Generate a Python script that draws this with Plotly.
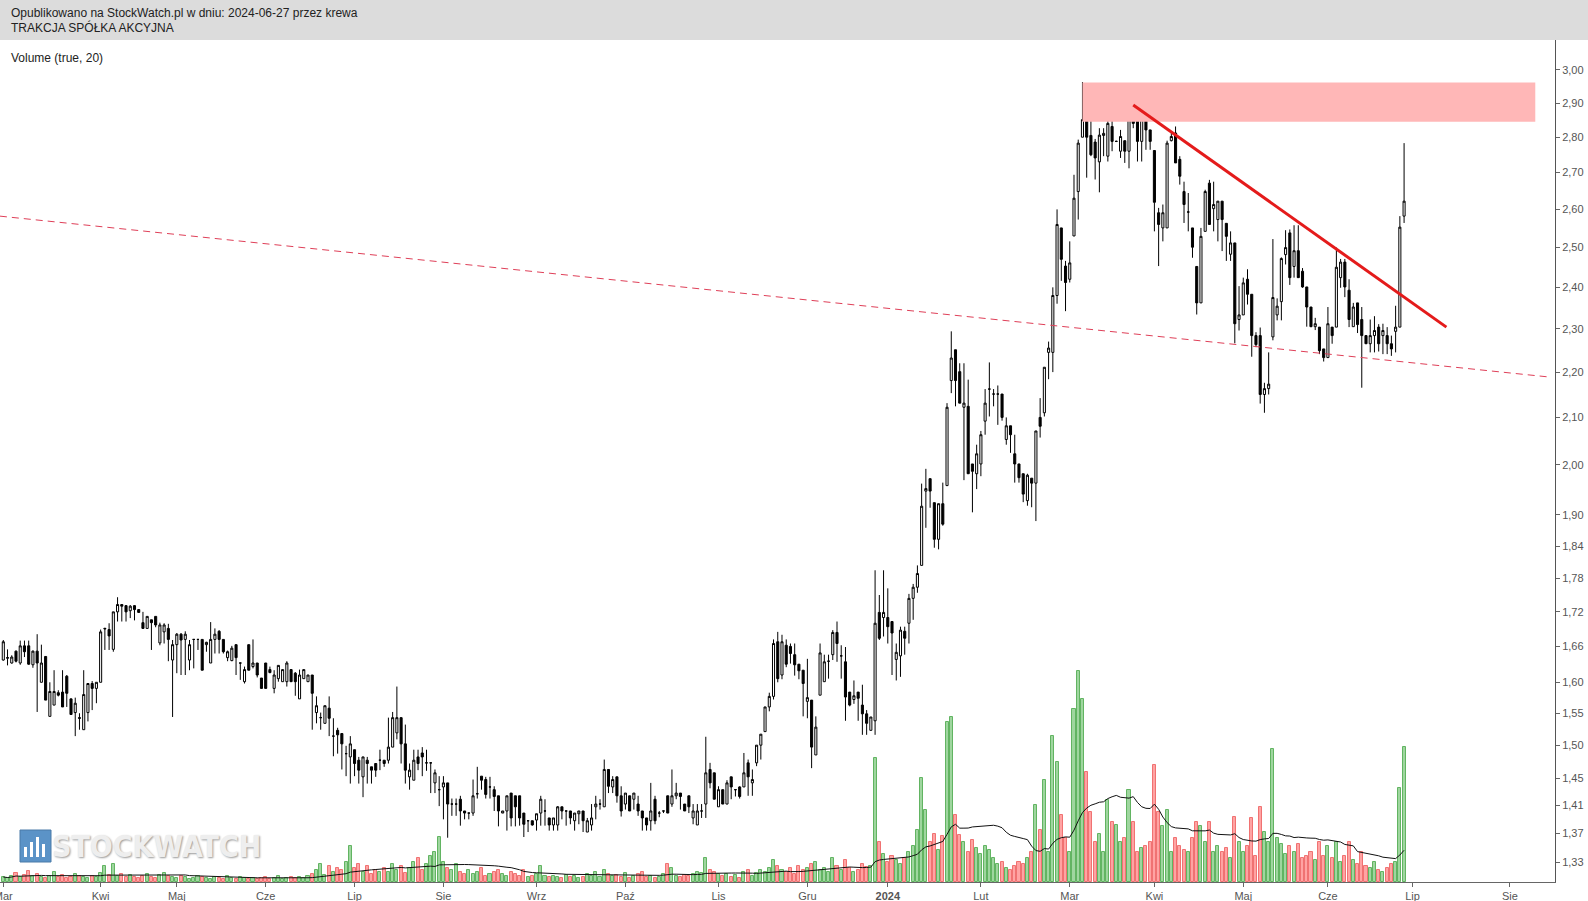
import math
import pandas as pd
import plotly.graph_objects as go

# ---------------- data ----------------
first_day = "2023-03-01"
last_axis_day = "2024-08-31"
holidays = ["2023-04-07", "2023-04-10", "2023-05-01", "2023-05-03", "2023-06-08",
            "2023-08-15", "2023-11-01", "2023-12-25", "2023-12-26", "2024-01-01",
            "2024-03-29", "2024-04-01", "2024-05-01", "2024-05-03", "2024-05-30",
            "2024-08-15"]
month_names = ["Sty", "Lut", "Mar", "Kwi", "Maj", "Cze", "Lip", "Sie", "Wrz", "Paź", "Lis", "Gru"]

open_ = [1.637,1.640,1.632,1.652,1.632,1.661,1.661,1.629,1.652,1.600,1.643,1.545,1.563,1.583,1.584,1.610,1.573,1.551,1.543,1.524,
1.551,1.598,1.590,1.600,1.690,1.689,1.655,1.720,1.733,1.731,1.722,1.731,1.724,1.701,1.691,1.706,1.712,1.666,1.685,1.691,
1.637,1.663,1.681,1.672,1.637,1.672,1.672,1.672,1.663,1.632,1.672,1.686,1.672,1.641,1.636,1.663,1.632,1.601,1.663,1.626,
1.632,1.607,1.632,1.621,1.590,1.606,1.601,1.601,1.621,1.615,1.573,1.606,1.601,1.612,1.551,1.543,1.534,1.558,1.514,1.523,
1.518,1.487,1.482,1.493,1.477,1.452,1.477,1.467,1.472,1.477,1.477,1.477,1.497,1.519,1.543,1.502,1.452,1.447,1.482,1.488,
1.473,1.473,1.443,1.433,1.437,1.443,1.412,1.412,1.419,1.402,1.399,1.399,1.427,1.453,1.448,1.437,1.433,1.424,1.399,1.402,
1.428,1.424,1.424,1.399,1.388,1.388,1.389,1.399,1.402,1.392,1.382,1.382,1.408,1.402,1.402,1.388,1.398,1.402,1.372,1.382,
1.408,1.412,1.408,1.463,1.437,1.452,1.424,1.412,1.424,1.419,1.412,1.402,1.392,1.388,1.419,1.399,1.402,1.424,1.412,1.424,
1.428,1.412,1.424,1.392,1.382,1.402,1.412,1.463,1.458,1.408,1.433,1.412,1.452,1.433,1.437,1.437,1.473,1.443,1.473,1.500,
1.521,1.560,1.577,1.668,1.612,1.662,1.660,1.646,1.630,1.620,1.569,1.571,1.485,1.579,1.601,1.635,1.646,1.684,1.644,1.634,
1.584,1.572,1.584,1.563,1.549,1.523,1.538,1.719,1.710,1.710,1.703,1.638,1.644,1.686,1.700,1.744,1.764,1.804,1.947,1.972,
1.924,1.853,1.922,1.958,2.181,2.251,2.201,2.122,2.124,2.002,1.982,2.002,2.092,2.162,2.151,2.151,2.151,2.053,2.082,2.023,
2.002,1.982,1.928,1.973,1.963,2.100,2.110,2.245,2.245,2.380,2.551,2.453,2.420,2.530,2.648,2.800,2.851,2.805,2.786,2.730,
2.805,2.746,2.831,2.788,2.760,2.790,2.760,2.865,2.851,2.788,2.860,2.821,2.762,2.591,2.551,2.551,2.790,2.812,2.737,2.648,
2.593,2.551,2.452,2.362,2.542,2.671,2.602,2.573,2.622,2.563,2.483,2.512,2.322,2.333,2.420,2.383,2.284,2.284,2.150,2.163,
2.281,2.333,2.365,2.482,2.538,2.452,2.492,2.440,2.401,2.352,2.305,2.304,2.253,2.233,2.304,2.304,2.424,2.463,2.393,2.305,
2.362,2.322,2.284,2.265,2.284,2.304,2.284,2.284,2.265,2.294,2.304,2.582]

high = [1.671,1.655,1.645,1.653,1.670,1.670,1.670,1.653,1.681,1.663,1.643,1.600,1.620,1.587,1.620,1.612,1.573,1.575,1.550,1.620,
1.598,1.602,1.600,1.689,1.692,1.700,1.720,1.746,1.733,1.732,1.732,1.732,1.724,1.720,1.712,1.706,1.712,1.701,1.700,1.699,
1.671,1.683,1.683,1.686,1.671,1.672,1.672,1.672,1.668,1.702,1.691,1.688,1.672,1.653,1.661,1.663,1.632,1.626,1.663,1.672,
1.632,1.607,1.632,1.626,1.620,1.628,1.621,1.635,1.621,1.617,1.621,1.621,1.612,1.612,1.577,1.551,1.562,1.577,1.542,1.527,
1.518,1.499,1.514,1.493,1.482,1.482,1.482,1.467,1.472,1.493,1.477,1.543,1.552,1.593,1.543,1.532,1.472,1.493,1.493,1.497,
1.493,1.473,1.463,1.453,1.453,1.443,1.420,1.420,1.424,1.402,1.399,1.448,1.467,1.453,1.452,1.452,1.438,1.424,1.402,1.424,
1.428,1.424,1.424,1.399,1.388,1.388,1.398,1.424,1.419,1.392,1.392,1.409,1.408,1.402,1.402,1.399,1.402,1.402,1.392,1.412,
1.424,1.419,1.478,1.463,1.453,1.452,1.438,1.428,1.424,1.428,1.424,1.402,1.392,1.443,1.424,1.402,1.402,1.424,1.463,1.443,
1.428,1.412,1.424,1.412,1.412,1.412,1.513,1.473,1.458,1.438,1.433,1.447,1.452,1.433,1.438,1.488,1.478,1.463,1.500,1.517,
1.560,1.583,1.672,1.685,1.680,1.672,1.665,1.665,1.630,1.620,1.639,1.571,1.545,1.665,1.646,1.646,1.688,1.703,1.662,1.659,
1.584,1.603,1.584,1.596,1.555,1.544,1.795,1.750,1.795,1.762,1.703,1.665,1.694,1.694,1.752,1.770,1.804,1.962,1.992,1.972,
1.924,1.922,1.964,2.131,2.294,2.251,2.220,2.220,2.183,2.002,2.042,2.071,2.162,2.222,2.162,2.170,2.151,2.100,2.082,2.063,
2.002,1.982,1.982,1.973,2.071,2.142,2.211,2.270,2.400,2.600,2.551,2.466,2.516,2.694,2.793,2.963,2.925,2.930,2.795,2.826,
2.826,2.880,2.889,2.790,2.821,2.790,2.875,2.894,2.851,2.870,2.870,2.821,2.762,2.604,2.613,2.790,2.812,2.831,2.746,2.675,
2.644,2.551,2.452,2.551,2.653,2.680,2.675,2.622,2.622,2.563,2.542,2.512,2.403,2.424,2.445,2.383,2.292,2.303,2.176,2.245,
2.522,2.373,2.475,2.545,2.547,2.558,2.558,2.448,2.401,2.352,2.326,2.304,2.253,2.352,2.304,2.500,2.471,2.471,2.420,2.362,
2.362,2.352,2.284,2.322,2.330,2.311,2.312,2.304,2.284,2.355,2.582,2.783]

low = [1.636,1.628,1.631,1.633,1.629,1.642,1.629,1.624,1.552,1.600,1.571,1.545,1.563,1.577,1.560,1.560,1.548,1.514,1.524,1.524,
1.537,1.555,1.566,1.600,1.654,1.654,1.651,1.703,1.703,1.703,1.709,1.705,1.719,1.691,1.691,1.654,1.693,1.662,1.665,1.635,
1.544,1.615,1.612,1.612,1.620,1.623,1.654,1.620,1.651,1.632,1.648,1.648,1.648,1.635,1.635,1.612,1.604,1.598,1.620,1.623,
1.608,1.590,1.590,1.615,1.582,1.601,1.601,1.593,1.601,1.578,1.573,1.606,1.601,1.524,1.534,1.524,1.534,1.514,1.483,1.487,
1.463,1.453,1.442,1.453,1.442,1.422,1.442,1.442,1.452,1.462,1.467,1.472,1.497,1.509,1.472,1.442,1.433,1.447,1.462,1.453,
1.461,1.428,1.428,1.409,1.390,1.364,1.395,1.395,1.381,1.390,1.390,1.395,1.420,1.433,1.420,1.420,1.402,1.380,1.399,1.374,
1.380,1.380,1.381,1.365,1.372,1.381,1.374,1.381,1.381,1.374,1.374,1.374,1.390,1.381,1.383,1.374,1.383,1.372,1.372,1.374,
1.390,1.404,1.408,1.428,1.428,1.414,1.394,1.404,1.402,1.404,1.395,1.374,1.374,1.374,1.383,1.393,1.399,1.399,1.408,1.419,
1.404,1.402,1.399,1.383,1.382,1.392,1.392,1.435,1.419,1.408,1.412,1.412,1.419,1.423,1.420,1.437,1.424,1.424,1.468,1.478,
1.521,1.553,1.572,1.600,1.605,1.625,1.631,1.611,1.605,1.545,1.542,1.465,1.485,1.579,1.601,1.606,1.637,1.634,1.606,1.538,
1.561,1.565,1.538,1.516,1.516,1.523,1.516,1.671,1.677,1.665,1.612,1.603,1.609,1.646,1.665,1.706,1.754,1.804,1.875,1.914,
1.837,1.834,1.879,1.958,2.153,2.124,2.131,1.969,1.982,1.905,1.951,1.977,2.063,2.102,2.124,2.084,2.093,2.042,2.025,1.964,
1.964,1.925,1.918,1.915,1.888,2.057,2.102,2.184,2.200,2.360,2.416,2.342,2.412,2.530,2.573,2.800,2.686,2.746,2.681,2.646,
2.746,2.731,2.760,2.786,2.741,2.727,2.712,2.826,2.731,2.731,2.764,2.764,2.542,2.453,2.516,2.551,2.788,2.727,2.667,2.564,
2.542,2.474,2.334,2.362,2.542,2.560,2.542,2.516,2.491,2.466,2.466,2.266,2.296,2.333,2.358,2.235,2.257,2.130,2.110,2.150,
2.273,2.320,2.320,2.457,2.406,2.424,2.424,2.399,2.305,2.304,2.297,2.241,2.224,2.233,2.265,2.304,2.399,2.376,2.304,2.305,
2.290,2.165,2.265,2.245,2.245,2.247,2.241,2.241,2.237,2.245,2.304,2.564]

close = [1.668,1.641,1.642,1.635,1.661,1.651,1.630,1.652,1.632,1.632,1.571,1.585,1.585,1.579,1.560,1.582,1.548,1.566,1.542,1.580,
1.598,1.590,1.600,1.685,1.691,1.678,1.720,1.733,1.730,1.720,1.730,1.724,1.719,1.691,1.712,1.701,1.697,1.697,1.697,1.672,
1.663,1.681,1.671,1.681,1.663,1.672,1.672,1.620,1.667,1.672,1.681,1.672,1.651,1.651,1.657,1.641,1.632,1.621,1.620,1.632,
1.612,1.590,1.590,1.616,1.612,1.628,1.621,1.632,1.601,1.601,1.612,1.621,1.612,1.582,1.562,1.543,1.562,1.542,1.514,1.516,
1.502,1.487,1.502,1.472,1.462,1.482,1.472,1.462,1.462,1.477,1.472,1.497,1.543,1.543,1.502,1.462,1.462,1.477,1.472,1.482,
1.473,1.473,1.458,1.433,1.443,1.412,1.412,1.412,1.402,1.399,1.399,1.424,1.427,1.447,1.426,1.437,1.423,1.402,1.402,1.424,
1.392,1.408,1.392,1.383,1.388,1.382,1.398,1.419,1.402,1.382,1.392,1.408,1.402,1.402,1.392,1.399,1.402,1.388,1.388,1.392,
1.412,1.412,1.463,1.438,1.448,1.424,1.402,1.428,1.402,1.428,1.402,1.392,1.382,1.402,1.388,1.399,1.402,1.399,1.424,1.428,
1.423,1.402,1.408,1.402,1.402,1.402,1.458,1.443,1.419,1.433,1.412,1.443,1.437,1.433,1.423,1.458,1.452,1.448,1.500,1.517,
1.560,1.577,1.665,1.606,1.668,1.630,1.648,1.629,1.619,1.598,1.575,1.497,1.528,1.649,1.634,1.635,1.684,1.665,1.644,1.576,
1.563,1.578,1.574,1.549,1.534,1.544,1.700,1.674,1.719,1.694,1.683,1.650,1.688,1.674,1.744,1.764,1.789,1.917,1.952,1.947,
1.853,1.922,1.882,2.122,2.232,2.181,2.131,2.131,1.982,1.987,2.023,2.063,2.131,2.162,2.151,2.151,2.100,2.082,2.063,2.002,
1.974,1.941,1.979,1.963,2.071,2.081,2.211,2.255,2.380,2.560,2.470,2.412,2.461,2.630,2.783,2.851,2.800,2.750,2.741,2.806,
2.811,2.840,2.788,2.788,2.802,2.760,2.860,2.840,2.788,2.860,2.821,2.788,2.619,2.560,2.591,2.783,2.802,2.727,2.690,2.613,
2.593,2.501,2.362,2.529,2.648,2.560,2.613,2.622,2.573,2.529,2.512,2.312,2.333,2.411,2.383,2.284,2.263,2.150,2.163,2.173,
2.375,2.354,2.472,2.500,2.424,2.492,2.424,2.401,2.352,2.305,2.312,2.249,2.233,2.312,2.284,2.450,2.463,2.401,2.322,2.352,
2.310,2.284,2.265,2.284,2.296,2.265,2.296,2.265,2.253,2.304,2.553,2.622]

# volume in tens of thousands of shares
volume = [5,4,6,9,5,7,11,6,8,5, 4,6,10,5,7,4,5,8,6,5, 4,6,5,9,16,7,18,6,8,5,
7,5,4,6,8,5,4,7,9,6, 5,4,6,5,3,4,6,5,4,3, 5,4,3,6,4,3,5,4,3,4,
3,4,5,3,4,6,3,4,5,4, 5,4,6,8,12,18,7,16,10,14, 12,20,36,14,18,10,16,8,12,10,
14,10,18,12,16,9,14,20,24,12, 18,26,30,45,20,14,12,18,10,8, 12,8,10,14,6,8,10,12,8,6,
10,8,6,12,5,6,8,16,6,5, 6,5,4,7,5,6,4,5,8,6, 10,5,12,8,6,7,5,9,4,6,
8,10,5,6,4,5,8,18,14,6, 5,7,6,8,10,9,24,12,10,8, 6,8,5,7,4,10,12,6,9,12,
10,14,22,16,12,10,14,8,16,12, 14,18,20,12,14,10,24,16,12,22, 14,10,12,18,15,16,124,40,28,20,
26,22,18,24,30,36,52,104,72,40, 48,32,46,160,165,67,47,40,30,42, 34,28,36,32,24,18,20,14,12,16,
20,18,24,30,77,52,102,30,146,120, 67,44,30,173,211,183,110,70,40,48, 30,82,60,57,40,44,92,60,30,34,
36,40,117,70,56,72,30,44,36,32, 30,44,60,56,40,60,30,36,30,34, 24,65,40,30,36,64,26,75,50,40,
133,44,38,28,36,30,38,24,26,30, 22,40,26,36,24,40,20,26,40,22, 18,30,16,14,20,12,10,14,18,20,
94,135]

price_ticks = [3.00, 2.90, 2.80, 2.70, 2.60, 2.50, 2.40, 2.30, 2.20, 2.10, 2.00, 1.90, 1.84,
               1.78, 1.72, 1.66, 1.60, 1.55, 1.50, 1.45, 1.41, 1.37, 1.33]

# resistance zone and trend lines (candle index, price)
zone_x = [255, 362]
zone_y = [2.845, 2.962]
trend_x = [267, 341]
trend_y = [2.894, 2.304]
support_x = [-0.8, 365.2]
support_y = [2.582, 2.189]

vol_ma_period = 20

# ---------------- derived ----------------
days = pd.bdate_range(first_day, last_axis_day)
days = days[~days.isin(pd.to_datetime(holidays))]
n = len(close)
idx = list(range(n))
high = [max(h, o, c) for h, o, c in zip(high, open_, close)]
low = [min(l, o, c) for l, o, c in zip(low, open_, close)]

tick_pos, tick_txt = [], []
prev_month = None
for i, d in enumerate(days):
    if d.month != prev_month:
        tick_pos.append(i)
        tick_txt.append("<b>%d</b>" % d.year if d.month == 1 else month_names[d.month - 1])
        prev_month = d.month

up = [c >= o for o, c in zip(open_, close)]
bar_fill = ["#9fd69f" if u else "#ffa3a3" for u in up]
bar_line = ["#62b462" if u else "#f07272" for u in up]
vol_ma = pd.Series(volume).rolling(vol_ma_period, min_periods=1).mean()

# ---------------- figure ----------------
W, H = 1588, 901
L, R, T, B = 0, 33, 40, 19
pw, ph = W - L - R, H - T - B

fig = go.Figure()

fig.add_trace(go.Bar(x=idx, y=volume, width=0.72, yaxis="y",
                     marker=dict(color=bar_fill, line=dict(color=bar_line, width=1)),
                     hoverinfo="skip"))
fig.add_trace(go.Scatter(x=idx, y=vol_ma, yaxis="y", mode="lines",
                         line=dict(color="#111111", width=1), hoverinfo="skip"))

fig.add_trace(go.Scatter(x=[zone_x[0], zone_x[1], zone_x[1], zone_x[0], zone_x[0]],
                         y=[zone_y[0], zone_y[0], zone_y[1], zone_y[1], zone_y[0]],
                         yaxis="y2", mode="lines", fill="toself", fillcolor="#ffb7b7",
                         line=dict(width=0, color="#ffb7b7"), hoverinfo="skip"))

fig.add_trace(go.Candlestick(x=idx, open=open_, high=high, low=low, close=close, yaxis="y2",
                             increasing=dict(line=dict(color="black", width=1), fillcolor="white"),
                             decreasing=dict(line=dict(color="black", width=1), fillcolor="black"),
                             whiskerwidth=0))

fig.add_trace(go.Scatter(x=support_x, y=support_y, yaxis="y2", mode="lines",
                         line=dict(color="#df3f58", width=1, dash="7px,5px"), hoverinfo="skip"))
fig.add_trace(go.Scatter(x=trend_x, y=trend_y, yaxis="y2", mode="lines",
                         line=dict(color="#e41b1b", width=3), hoverinfo="skip"))

xr = [-0.78, 366.66]
fig.update_layout(
    width=W, height=H, margin=dict(l=L, r=R, t=T, b=B, pad=0, autoexpand=False),
    paper_bgcolor="white", plot_bgcolor="white", showlegend=False,
    font=dict(family="Liberation Sans, Arial, sans-serif", size=11, color="#555555"),
    separators=", ",
    bargap=0,
    xaxis=dict(range=xr, showgrid=False, zeroline=False, rangeslider=dict(visible=False),
               tickmode="array", tickvals=tick_pos, ticktext=tick_txt, ticklabeloverflow="allow",
               automargin=False,
               showline=True, linecolor="#666666", linewidth=1,
               ticks="outside", ticklen=4, tickcolor="#666666",
               tickfont=dict(size=11, color="#555555")),
    yaxis=dict(range=[0, ph], visible=False, fixedrange=True),
    yaxis2=dict(type="log", overlaying="y", side="right", automargin=False,
                range=[math.log10(1.3034), math.log10(3.0938)],
                tickmode="array", tickvals=price_ticks, tickformat=".2f",
                showgrid=False, zeroline=False, showline=True, linecolor="#555555", linewidth=1,
                ticks="outside", ticklen=4, tickcolor="#666666",
                tickfont=dict(size=11, color="#555555")),
)

# header band
fig.add_shape(type="rect", xref="paper", yref="paper", x0=-0.01, x1=W / pw + 0.01,
              y0=1, y1=1 + T / ph + 0.01, fillcolor="#dcdcdc", line=dict(width=0), layer="above")
fig.add_annotation(xref="paper", yref="paper", x=9 / pw, y=(ph + T - 13) / ph, xanchor="left", yanchor="middle",
                   text="Opublikowano na StockWatch.pl w dniu: 2024-06-27 przez krewa", showarrow=False,
                   font=dict(size=12, color="#222222"))
fig.add_annotation(xref="paper", yref="paper", x=9 / pw, y=(ph + T - 27) / ph, xanchor="left", yanchor="middle",
                   text="TRAKCJA SPÓŁKA AKCYJNA", showarrow=False, font=dict(size=12, color="#222222"))
fig.add_annotation(xref="paper", yref="paper", x=9 / pw, y=(ph + T - 58) / ph, xanchor="left", yanchor="middle",
                   text="Volume (true, 20)", showarrow=False, font=dict(size=12, color="#222222"))

# watermark
fig.add_shape(type="rect", xref="paper", yref="paper", x0=20 / pw, x1=51 / pw,
              y0=(H - B - 862) / ph, y1=(H - B - 830) / ph,
              fillcolor="#5b93c7", line=dict(color="#4a7aa8", width=1), layer="above")
for k, hgt in enumerate([10, 15, 20, 13]):
    fig.add_shape(type="rect", xref="paper", yref="paper", x0=(24 + k * 6) / pw, x1=(27 + k * 6) / pw,
                  y0=(H - B - 857) / ph, y1=(H - B - 857 + hgt) / ph,
                  fillcolor="white", line=dict(width=0), layer="above")
fig.add_annotation(xref="paper", yref="paper", x=50 / pw, y=(H - B - 846) / ph, xanchor="left", yanchor="middle",
                   text="<b>STOCKWATCH</b>", showarrow=False,
                   font=dict(size=30, color="#eeeeee",
                             family="Liberation Sans Narrow, Arial Narrow, DejaVu Sans Condensed, sans-serif",
                             shadow="1px 1px 2px #9a9a9a"))

fig.write_html("out.html", config={"displayModeBar": False},
               post_script="document.body.style.margin='0';document.body.style.padding='0';"
                           "document.body.style.overflow='hidden';")
